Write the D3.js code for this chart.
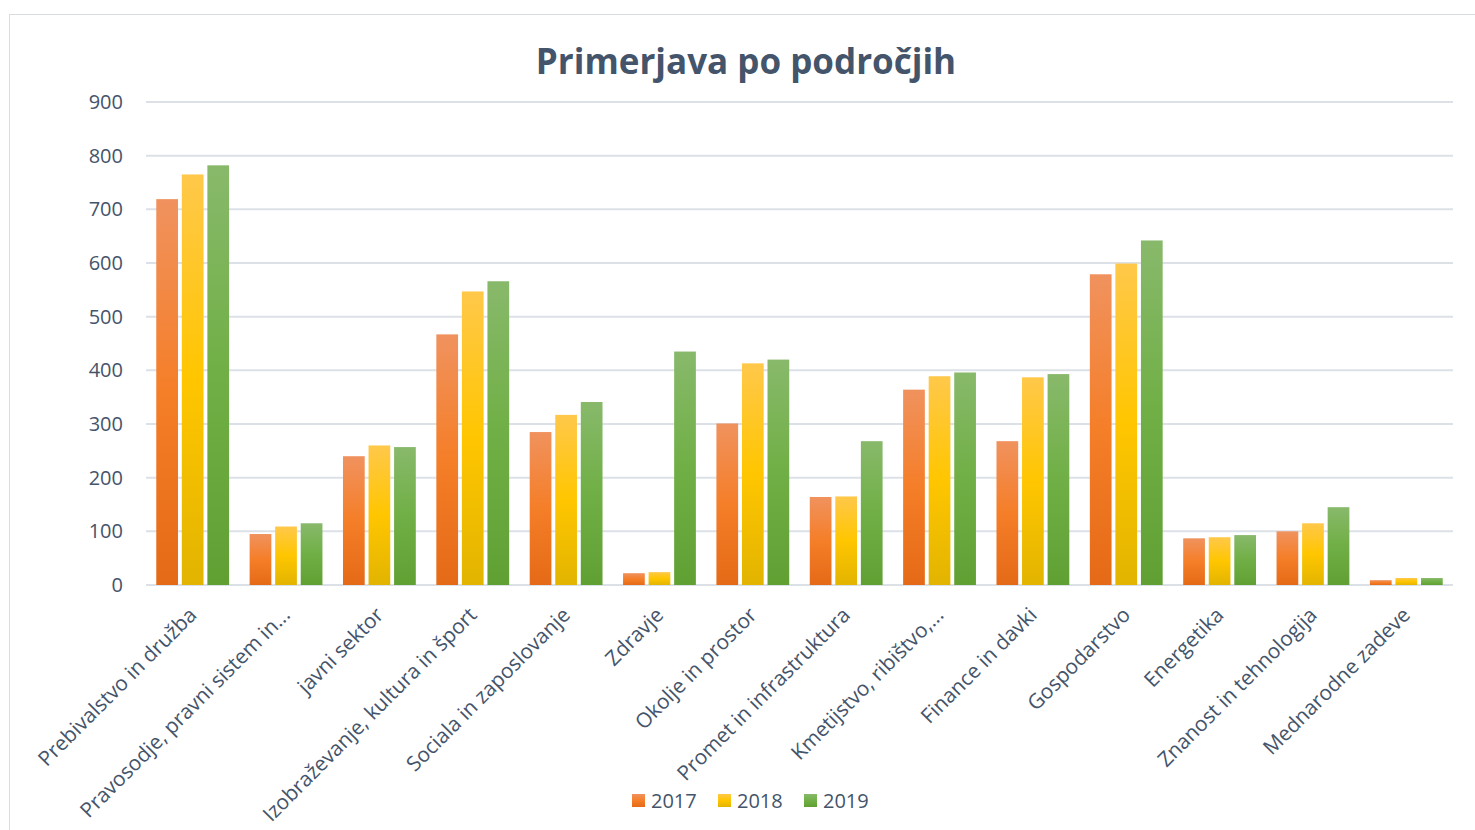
<!DOCTYPE html>
<html lang="sl">
<head>
    <meta charset="UTF-8">
    <title>Primerjava po področjih</title>
    <script src="https://cdn.jsdelivr.net/npm/d3@7"></script>
    <style>
        body { margin: 0; background: #fff; }
        text { font-family: "Open Sans", "Noto Sans", sans-serif; fill: #44546A; }
    </style>
</head>
<body>
    <div id="chart"></div>

    <script>
        // Chart data
        var categories = [
            "Prebivalstvo in družba",
            "Pravosodje, pravni sistem in...",
            "javni sektor",
            "Izobraževanje, kultura in šport",
            "Sociala in zaposlovanje",
            "Zdravje",
            "Okolje in prostor",
            "Promet in infrastruktura",
            "Kmetijstvo, ribištvo,...",
            "Finance in davki",
            "Gospodarstvo",
            "Energetika",
            "Znanost in tehnologija",
            "Mednarodne zadeve"
        ];
        var years = ["2017", "2018", "2019"];
        var values2017 = [719, 95, 240, 467, 285, 22, 301, 164, 364, 268, 579, 87, 100, 9];
        var values2018 = [765, 109, 260, 547, 317, 24, 413, 165, 389, 387, 599, 89, 115, 13];
        var values2019 = [782, 115, 257, 566, 341, 435, 420, 268, 396, 393, 642, 93, 145, 13];
        var yTicks = [0, 100, 200, 300, 400, 500, 600, 700, 800, 900];

        var seriesValues = [values2017, values2018, values2019];

        var width = 1475;
        var height = 830;
        var margin = { left: 146, right: 22, top: 102, bottom: 245 };

        var svg = d3.select('#chart')
                    .append('svg')
                    .attr('width', width)
                    .attr('height', height);

        // gradients (light top, saturated middle, darker bottom)
        var gradColors = [
            ["#F0925E", "#F57E28", "#E56A17"],
            ["#FFC84A", "#FFC600", "#E2B400"],
            ["#88B96B", "#70AF45", "#60A033"]
        ];
        var defs = svg.append('defs');
        gradColors.forEach(function(c, i) {
            var g = defs.append('linearGradient')
                .attr('id', 'grad' + i)
                .attr('x1', 0).attr('y1', 0).attr('x2', 0).attr('y2', 1);
            g.append('stop').attr('offset', '0%').attr('stop-color', c[0]);
            g.append('stop').attr('offset', '50%').attr('stop-color', c[1]);
            g.append('stop').attr('offset', '100%').attr('stop-color', c[2]);
        });

        // chart border
        svg.append('rect')
            .attr('x', 9.5).attr('y', 14.5)
            .attr('width', width + 10).attr('height', height)
            .attr('fill', 'none')
            .attr('stroke', '#D9DCE1')
            .attr('stroke-width', 1);

        var x0 = d3.scaleBand()
            .domain(categories)
            .range([margin.left, width - margin.right])
            .paddingInner(0.22)
            .paddingOuter(0.11);

        var x1 = d3.scaleBand()
            .domain(years)
            .range([0, x0.bandwidth()])
            .paddingInner(0.15);

        var y = d3.scaleLinear()
            .domain([0, 900])
            .range([height - margin.bottom, margin.top]);

        // gridlines
        svg.append('g')
            .selectAll('line')
            .data(yTicks)
            .join('line')
            .attr('x1', margin.left)
            .attr('x2', width - margin.right)
            .attr('y1', d => y(d))
            .attr('y2', d => y(d))
            .attr('stroke', '#DCE1E7')
            .attr('stroke-width', 2);

        // y labels
        svg.append('g')
            .selectAll('text')
            .data(yTicks)
            .join('text')
            .attr('x', 123)
            .attr('y', d => y(d))
            .attr('dy', '0.35em')
            .attr('text-anchor', 'end')
            .style('font-size', '20px')
            .text(d => d);

        // bars
        var groups = svg.append('g')
            .selectAll('g')
            .data(categories)
            .join('g')
            .attr('transform', d => 'translate(' + x0(d) + ',0)');

        groups.selectAll('rect')
            .data((d, i) => years.map((yr, j) => ({ year: yr, s: j, value: seriesValues[j][i] })))
            .join('rect')
            .attr('x', d => x1(d.year))
            .attr('width', x1.bandwidth())
            .attr('y', d => y(d.value))
            .attr('height', d => y(0) - y(d.value))
            .attr('fill', d => 'url(#grad' + d.s + ')');

        // x labels
        svg.append('g')
            .selectAll('text')
            .data(categories)
            .join('text')
            .attr('transform', d => 'translate(' + (x0(d) + x0.bandwidth() / 2 - 5) + ',' + 606 + ') rotate(-45)')
            .attr('text-anchor', 'end')
            .attr('dy', '0.7em')
            .style('font-size', '20.7px')
            .text(d => d);

        // title
        svg.append('text')
            .attr('x', 746)
            .attr('y', 74)
            .attr('text-anchor', 'middle')
            .style('font-size', '35px')
            .style('font-weight', 'bold')
            .text('Primerjava po področjih');

        // legend
        var legendX = [632, 718, 804];
        var legend = svg.append('g')
            .selectAll('g')
            .data(years)
            .join('g')
            .attr('transform', (d, i) => 'translate(' + legendX[i] + ',794)');
        legend.append('rect')
            .attr('width', 13).attr('height', 13)
            .attr('fill', (d, i) => 'url(#grad' + i + ')');
        legend.append('text')
            .attr('x', 19)
            .attr('y', 7)
            .attr('dy', '0.35em')
            .style('font-size', '20px')
            .text(d => d);
    </script>
</body>
</html>
